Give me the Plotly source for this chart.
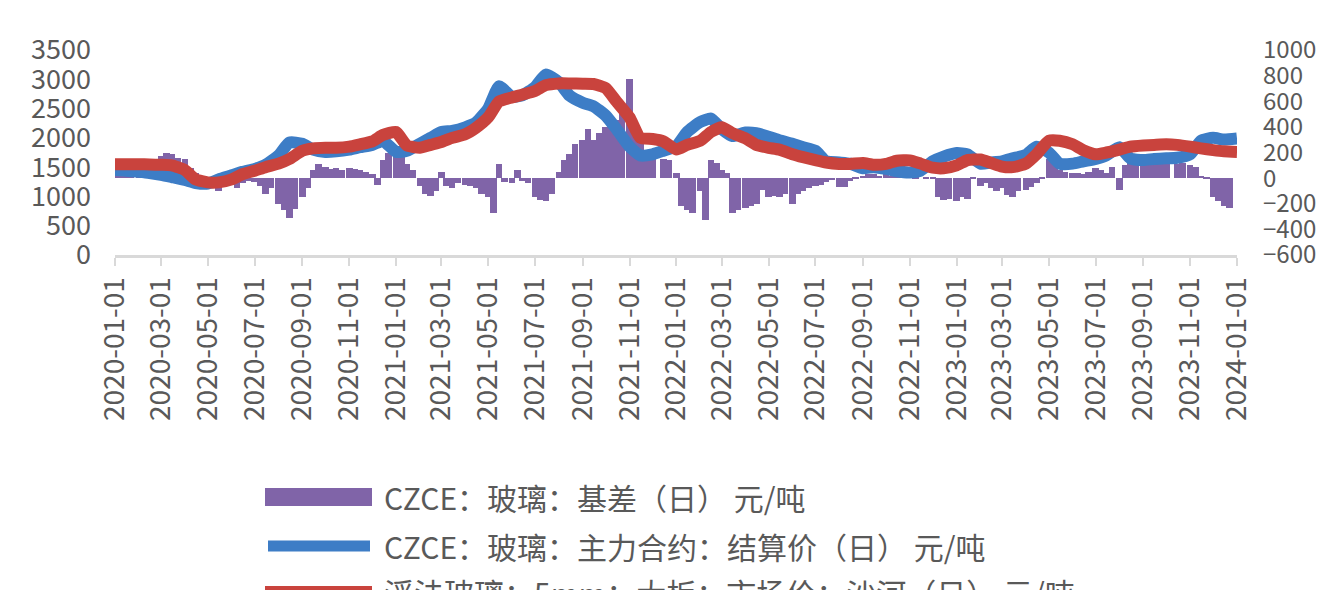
import plotly.graph_objects as go

# ---------------- data ----------------
price_dates = []
for yr in range(2020, 2024):
    for mo in range(1, 13):
        price_dates.append(f"{yr}-{mo:02d}-01")
        price_dates.append(f"{yr}-{mo:02d}-15")
price_dates.append("2024-01-01")

# CZCE glass main contract settlement price (left axis)
futures_price = [
    1450, 1440, 1420, 1400, 1370, 1330, 1280, 1230, 1220, 1290, 1360, 1420,
    1470, 1540, 1700, 1920, 1900, 1800, 1760, 1770, 1800, 1840, 1880, 1950,
    1760, 1780, 1900, 2000, 2100, 2120, 2180, 2260, 2500, 2880, 2700, 2730,
    2870, 3080, 2950, 2720, 2600, 2540, 2380, 2150, 1850, 1700, 1720, 1780,
    1860, 2100, 2270, 2330, 2150, 2030, 2090, 2080, 2020, 1960, 1900, 1840,
    1780, 1600, 1580, 1560, 1480, 1500, 1470, 1430, 1410, 1440, 1600, 1680,
    1740, 1720, 1560, 1580, 1600, 1650, 1710, 1850, 1750, 1560, 1560, 1600,
    1640, 1700, 1840, 1650, 1620, 1640, 1650, 1660, 1720, 1950, 2000, 1970,
    1990,
]

# Float glass 5mm spot price, Shahe (left axis)
spot_price = [
    1550, 1550, 1550, 1545, 1540, 1530, 1450, 1290, 1240, 1240, 1290, 1380,
    1440, 1500, 1560, 1640, 1780, 1820, 1830, 1830, 1850, 1890, 1940, 2050,
    2100, 1870, 1830, 1880, 1930, 2000, 2060, 2170, 2350, 2620, 2690, 2740,
    2800, 2900, 2930, 2930, 2925, 2920, 2850, 2620, 2350, 2000, 1980, 1940,
    1800, 1880, 1950, 2100, 2180, 2080, 1990, 1880, 1830, 1800, 1720, 1670,
    1620, 1580, 1555, 1555, 1570, 1540, 1555, 1610, 1615, 1560, 1490, 1480,
    1530, 1620, 1630, 1570, 1510, 1500, 1560, 1720, 1950, 1950, 1890, 1790,
    1720, 1750, 1800, 1850, 1870, 1880, 1890, 1880, 1850, 1820, 1790, 1770,
    1760,
]

basis_dates = []
for yr in range(2020, 2024):
    for mo in range(1, 13):
        for d in (1, 8, 15, 22):
            basis_dates.append(f"{yr}-{mo:02d}-{d:02d}")

# CZCE glass basis (right axis)
basis = [
    # 2020
    100, 110, 90, 100,   110, 130, 140, 150,   170, 200, 190, 160,
    150, 80, 40, 20,     10, -40, -100, -60,   -30, -80, -40, -20,
    -30, -60, -120, -80, -200, -250, -310, -240, -150, -80, 60, 110,
    90, 70, 80, 60,      80, 70, 60, 50,       30, -50, 140, 200,
    # 2021
    230, 180, 110, 60,   -60, -120, -140, -100, 50, -60, -80, -40,
    -50, -60, -80, -120, -150, -270, 110, -30, -40, 60, -20, -40,
    -150, -170, -180, -120, 50, 140, 190, 270, 300, 380, 300, 350,
    400, 380, 450, 580,  770, 350, 300, 160,   220, 0, 150, 140,
    # 2022
    40, -220, -250, -270, -100, -330, 140, 120, 60, 40, -270, -250,
    -230, -220, -200, -90, -150, -140, -150, -120, -200, -120, -100, -80,
    -60, -50, -30, -10,  -70, -70, -20, 10,    20, 30, 30, 20,
    30, 20, 40, 100,     20, 10, 0, 10,        10, -150, -170, -160,
    # 2023
    -180, -150, -160, 10, -60, -40, -80, -100, -80, -130, -150, -100,
    -90, -70, -40, 10,   150, 120, 60, 50,     40, 40, 30, 50,
    80, 60, 40, 85,      -90, 100, 130, 160,   140, 110, 150, 130,
    120, 0, 110, 120,    100, 90, 20, 10,      -150, -180, -220, -230,
]

tick_dates = []
for yr in range(2020, 2024):
    for mo in (1, 3, 5, 7, 9, 11):
        tick_dates.append(f"{yr}-{mo:02d}-01")
tick_dates.append("2024-01-01")

left_ticks = [0, 500, 1000, 1500, 2000, 2500, 3000, 3500]
right_ticks = [-600, -400, -200, 0, 200, 400, 600, 800, 1000]

series_names = [
    "CZCE：玻璃：基差（日） 元/吨",
    "CZCE：玻璃：主力合约：结算价（日） 元/吨",
    "浮法玻璃：5mm：大板：市场价：沙河（日） 元/吨",
]

# ---------------- style ----------------
PURPLE = "#8064A8"
BLUE = "#3D7DC6"
RED = "#C9433D"
GREY = "#595959"
AXIS = "#D9D9D9"
FONT = "Noto Sans CJK SC"

# page body adds an 8px offset; positions below are in figure pixels
OFF = 8
W, H = 1335, 590
L, T = 115 - OFF, 50 - OFF
R = W - (1237 - OFF)
B = H - (255 - OFF)
PW, PH = W - L - R, H - T - B

fig = go.Figure()
fig.add_trace(go.Bar(
    x=basis_dates, y=basis, yaxis="y", name=series_names[0],
    marker=dict(color=PURPLE, line=dict(width=0)),
    width=8.6 * 86400000, showlegend=False,
))
fig.add_trace(go.Scatter(
    x=price_dates, y=futures_price, yaxis="y2", mode="lines", name=series_names[1],
    line=dict(color=BLUE, width=12, shape="spline", smoothing=0.5), showlegend=False,
))
fig.add_trace(go.Scatter(
    x=price_dates, y=spot_price, yaxis="y2", mode="lines", name=series_names[2],
    line=dict(color=RED, width=12, shape="spline", smoothing=0.5), showlegend=False,
))

fig.update_layout(
    width=W, height=H,
    margin=dict(l=L, r=R, t=T, b=B, pad=0, autoexpand=False),
    paper_bgcolor="white", plot_bgcolor="white",
    font=dict(family=FONT, color=GREY),
    bargap=0,
    xaxis=dict(
        type="date", range=["2020-01-01", "2024-01-01"],
        tickvals=tick_dates, ticktext=tick_dates, tickangle=-90,
        tickfont=dict(size=28, family=FONT, color=GREY),
        showline=True, linecolor=AXIS, linewidth=3,
        ticks="outside", ticklen=8, tickcolor=AXIS, tickwidth=2,
        showgrid=False, zeroline=False, automargin=False,
    ),
    yaxis=dict(
        side="right", range=[-600, 1000], tickvals=right_ticks,
        tickfont=dict(size=24, family=FONT, color=GREY),
        showgrid=False, zeroline=False, showline=False, ticks="",
        ticklabelstandoff=25, automargin=False,
    ),
    yaxis2=dict(
        overlaying="y", side="left", range=[0, 3500], tickvals=left_ticks,
        tickfont=dict(size=27, family=FONT, color=GREY),
        showgrid=False, zeroline=False, showline=False, ticks="",
        ticklabelstandoff=23, automargin=False,
    ),
)

# ---------------- manual legend ----------------
def px_x(px):
    return (px - OFF - L) / PW

def px_y(py):
    return (H - B - (py - OFF)) / PH

legend_rows = [497, 546, 592]
fig.add_shape(type="rect", xref="paper", yref="paper",
              x0=px_x(265), x1=px_x(372), y0=px_y(506), y1=px_y(488),
              fillcolor=PURPLE, line=dict(width=0))
fig.add_shape(type="line", xref="paper", yref="paper",
              x0=px_x(268), x1=px_x(370), y0=px_y(legend_rows[1]), y1=px_y(legend_rows[1]),
              line=dict(color=BLUE, width=11))
fig.add_shape(type="line", xref="paper", yref="paper",
              x0=px_x(265), x1=px_x(372), y0=px_y(legend_rows[2]), y1=px_y(legend_rows[2]),
              line=dict(color=RED, width=12))
for name, row in zip(series_names, legend_rows):
    fig.add_annotation(
        x=px_x(382), y=px_y(row), xref="paper", yref="paper",
        text=name, showarrow=False, xanchor="left", yanchor="middle",
        font=dict(size=30, family=FONT, color=GREY),
    )

fig.write_html("out.html")
